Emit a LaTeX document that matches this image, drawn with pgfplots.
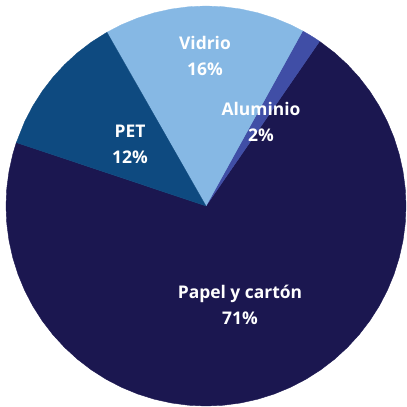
\documentclass[border=0pt]{standalone}
\usepackage{pgfplots}
\pgfplotsset{compat=1.18}
\usepgfplotslibrary{polar}
\usepackage{fontspec}
\setmainfont{Open Sans}
\definecolor{papel}{RGB}{27,23,80}
\definecolor{pet}{RGB}{14,74,128}
\definecolor{vidrio}{RGB}{134,184,228}
\definecolor{alu}{RGB}{64,78,166}
\begin{document}
\begin{tikzpicture}
\begin{axis}[
  width=407bp, height=407bp, scale only axis,
  xmin=-1.03, xmax=1.005, ymin=-1.005, ymax=1.03,
  hide axis, clip=false,
  data cs=polar,
]
\path (rel axis cs:0,0) rectangle (rel axis cs:1,1);
% Papel y carton 70.5% : 161.5 -> 415.4 deg
\addplot[fill=papel, draw=papel, line width=0.4pt, line join=round] coordinates {(0,0) (161.5,1) (165,1) (170,1) (175,1) (180,1) (185,1) (190,1) (195,1) (200,1) (205,1) (210,1) (215,1) (220,1) (225,1) (230,1) (235,1) (240,1) (245,1) (250,1) (255,1) (260,1) (265,1) (270,1) (275,1) (280,1) (285,1) (290,1) (295,1) (300,1) (305,1) (310,1) (315,1) (320,1) (325,1) (330,1) (335,1) (340,1) (345,1) (350,1) (355,1) (360,1) (365,1) (370,1) (375,1) (380,1) (385,1) (390,1) (395,1) (400,1) (405,1) (410,1) (415.4,1) (0,0)};
% Aluminio 1.6% : 55.4 -> 61.1
\addplot[fill=alu, draw=alu, line width=0.3pt, line join=round] coordinates {(0,0) (55.4,1) (57,1) (59,1) (61.1,1) (0,0)};
% Vidrio 16.3% : 61.1 -> 119.7
\addplot[fill=vidrio, draw=vidrio, line width=0.3pt, line join=round] coordinates {(0,0) (61.1,1) (65,1) (70,1) (75,1) (80,1) (85,1) (90,1) (95,1) (100,1) (105,1) (110,1) (115,1) (119.7,1) (0,0)};
% PET 11.6% : 119.7 -> 161.5
\addplot[fill=pet, draw=pet, line width=0.3pt, line join=round] coordinates {(0,0) (119.7,1) (125,1) (130,1) (135,1) (140,1) (145,1) (150,1) (155,1) (161.5,1) (0,0)};
\begin{scope}[every node/.style={text=white, font=\fontsize{17.5}{26}\selectfont\bfseries, align=center}]
\node at (axis cs:-0.005,0.75) {Vidrio\\16\%};
\node at (axis cs:0.275,0.42) {Aluminio\\2\%};
\node at (axis cs:-0.38,0.31) {PET\\12\%};
\node at (axis cs:0.17,-0.495) {Papel y cartón\\71\%};
\end{scope}
\end{axis}
\end{tikzpicture}
\end{document}
